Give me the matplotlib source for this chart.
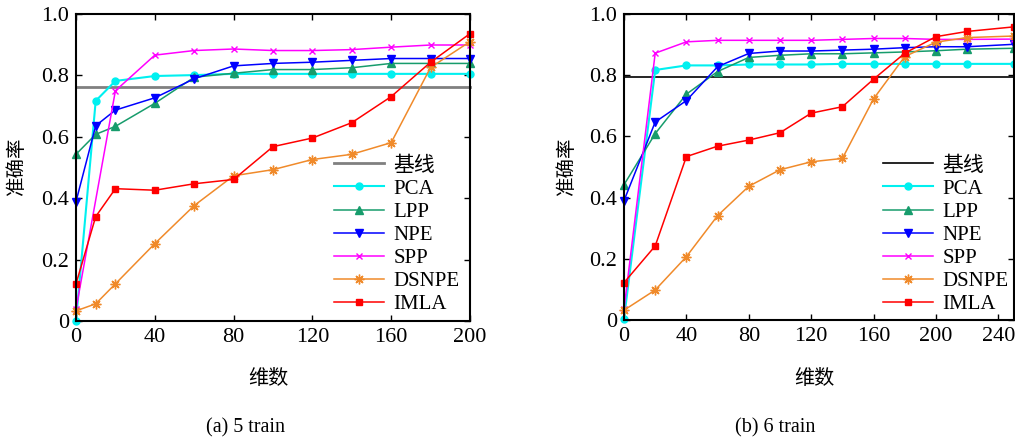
import numpy as np
import matplotlib
matplotlib.use("Agg")
import matplotlib.pyplot as plt

plt.rcParams['font.family'] = ['Liberation Serif', 'Noto Sans CJK SC']
plt.rcParams['font.size'] = 15

# (a) 5 train
dimsA = [0, 10, 20, 40, 60, 80, 100, 120, 140, 160, 180, 200]
dimsA_spp = [0, 20, 40, 60, 80, 100, 120, 140, 160, 180, 200]
baseA = 0.761
pcaA = [0.0, 0.717, 0.782, 0.798, 0.801, 0.805, 0.805, 0.805, 0.805, 0.805, 0.805, 0.805]
lppA = [0.543, 0.608, 0.634, 0.709, 0.794, 0.807, 0.819, 0.819, 0.825, 0.839, 0.839, 0.839]
npeA = [0.389, 0.636, 0.687, 0.727, 0.789, 0.831, 0.839, 0.843, 0.849, 0.855, 0.855, 0.855]
sppA = [0.038, 0.750, 0.866, 0.881, 0.886, 0.881, 0.881, 0.884, 0.892, 0.899, 0.899]
dsnpeA = [0.033, 0.056, 0.121, 0.252, 0.376, 0.473, 0.493, 0.526, 0.543, 0.581, 0.826, 0.910]
imlaA = [0.121, 0.340, 0.431, 0.426, 0.447, 0.461, 0.568, 0.596, 0.646, 0.731, 0.843, 0.936]

# (b) 6 train
dimsB = [0, 20, 40, 60, 80, 100, 120, 140, 160, 180, 200, 220, 250]
baseB = 0.793
pcaB = [0.004, 0.817, 0.832, 0.832, 0.835, 0.835, 0.835, 0.837, 0.837, 0.837, 0.837, 0.837, 0.837]
lppB = [0.442, 0.609, 0.738, 0.812, 0.858, 0.865, 0.870, 0.870, 0.873, 0.876, 0.880, 0.885, 0.888]
npeB = [0.390, 0.647, 0.717, 0.828, 0.871, 0.879, 0.879, 0.882, 0.885, 0.890, 0.893, 0.893, 0.901]
sppB = [0.035, 0.872, 0.909, 0.914, 0.914, 0.914, 0.914, 0.917, 0.920, 0.920, 0.917, 0.917, 0.918]
dsnpeB = [0.032, 0.098, 0.207, 0.341, 0.437, 0.491, 0.517, 0.528, 0.723, 0.861, 0.908, 0.923, 0.928]
imlaB = [0.122, 0.242, 0.534, 0.568, 0.588, 0.612, 0.676, 0.697, 0.787, 0.872, 0.926, 0.943, 0.958]

W, H = 1015, 441
fig = plt.figure(figsize=(W / 100, H / 100), dpi=100)


def panel(rect, dims, dims_spp, base, base_color, base_lw, pca, lpp, npe, spp, dsnpe, imla,
          xmax, xticks, caption, cap_x, ylab_x, leg_x):
    l, t, r, b = rect
    ax = fig.add_axes([l / W, 1 - b / H, (r - l) / W, (b - t) / H])
    ax.axhline(base, color=base_color, lw=base_lw, label='基线')
    ax.plot(dims, pca, color='#00f0f0', lw=1.5, marker='o', ms=5, label='PCA')
    ax.plot(dims, lpp, color='#179c6c', lw=1.1, marker='^', ms=6, label='LPP')
    ax.plot(dims, npe, color='#0000ff', lw=1.1, marker='v', ms=6, label='NPE')
    ax.plot(dims_spp, spp, color='#ff00ff', lw=1.1, marker='x', ms=5, mew=1.0, label='SPP')
    ax.plot(dims, dsnpe, color='#f08a2a', lw=1.1, marker=(8, 2, 0), ms=7, mew=1.0, label='DSNPE')
    ax.plot(dims, imla, color='#ff0000', lw=1.1, marker='s', ms=5, label='IMLA')
    ax.set_xlim(0, xmax)
    ax.set_ylim(0, 1.0)
    ax.set_xticks(xticks)
    ax.set_yticks([0, 0.2, 0.4, 0.6, 0.8, 1.0])
    ax.set_yticklabels(['0', '0.2', '0.4', '0.6', '0.8', '1.0'])
    ax.tick_params(direction='in', top=True, right=True, length=4, width=1, labelsize=16, pad=5)
    for s in ax.spines.values():
        s.set_linewidth(1.5)
    for line in ax.get_lines():
        line.set_clip_on(False)
    ax.legend(loc='upper left', bbox_to_anchor=(leg_x / W, 1 - 156 / H),
              bbox_transform=fig.transFigure, frameon=False, fontsize=15,
              handlelength=2.4, handletextpad=0.45, labelspacing=0.17,
              borderpad=0, borderaxespad=0)
    fig.text(ylab_x / W, 1 - 167 / H, '准确率', rotation=90, ha='center', va='center', fontsize=14)
    fig.text((l + r) / 2 / W - 0.005, 1 - 380 / H, '维数', ha='center', va='center', fontsize=14.5)
    fig.text(cap_x / W, 1 - 428 / H, caption, ha='center', va='center', fontsize=14.5)
    return ax


panel((76, 14, 470, 321), dimsA, dimsA_spp, baseA, '#808080', 2.0,
      pcaA, lppA, npeA, sppA, dsnpeA, imlaA, 200, [0, 40, 80, 120, 160, 200],
      '(a) 5 train', 245, 17, 334)
panel((624, 14, 1014, 320), dimsB, dimsB, baseB, '#000000', 1.2,
      pcaB, lppB, npeB, sppB, dsnpeB, imlaB, 250, [0, 40, 80, 120, 160, 200, 240],
      '(b) 6 train', 775, 567, 883)

fig.savefig('out.png', dpi=100)
